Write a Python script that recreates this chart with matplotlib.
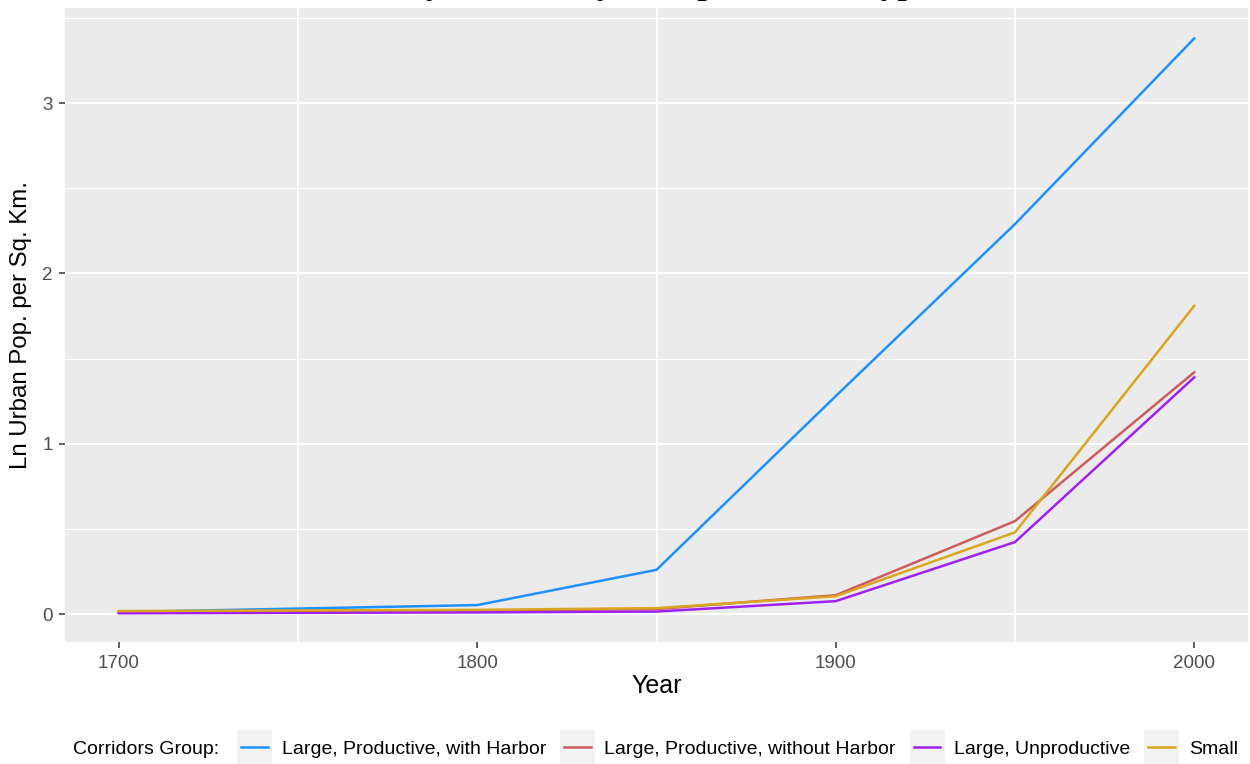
import matplotlib
matplotlib.use("Agg")
import matplotlib.pyplot as plt
from matplotlib.lines import Line2D
from matplotlib.patches import Rectangle
from matplotlib.legend_handler import HandlerBase

years = [1700, 1800, 1850, 1900, 1950, 2000]
series_names = ["Large, Productive, with Harbor", "Large, Productive, without Harbor",
                "Large, Unproductive", "Small"]
harbor = [0.012, 0.053, 0.26, 1.28, 2.29, 3.38]
no_harbor = [0.010, 0.020, 0.030, 0.111, 0.546, 1.42]
unproductive = [0.005, 0.010, 0.015, 0.076, 0.423, 1.39]
small = [0.018, 0.025, 0.035, 0.105, 0.48, 1.81]
colors = ["#1E90FF", "#CD5C5C", "#A020F0", "#DAA520"]
x_ticks = [1700, 1800, 1900, 2000]
y_ticks = [0, 1, 2, 3]

plt.rcParams['font.family'] = ['Liberation Sans', 'DejaVu Sans']

fig = plt.figure(figsize=(12.5, 7.64), dpi=100)
ax = fig.add_axes([65/1250, 1 - 642/764, (1248-65)/1250, (642-8)/764])
ax.set_facecolor("#EBEBEB")
for s in ax.spines.values():
    s.set_visible(False)

allvals = harbor + no_harbor + unproductive + small
lo, hi = min(allvals), max(allvals)
ax.set_ylim(lo - 0.05*(hi-lo), hi + 0.05*(hi-lo) + 0.01)
ax.set_xlim(1700 - 15, 2000 + 15)

# grid: horizontal major + minor, vertical minor only
for v in [0.5, 1.5, 2.5, 3.5]:
    ax.axhline(v, color="white", lw=0.8, zorder=0)
for v in y_ticks:
    ax.axhline(v, color="white", lw=1.5, zorder=0)
for v in [1750, 1850, 1950]:
    ax.axvline(v, color="white", lw=1.3, zorder=0)

data = [harbor, no_harbor, unproductive, small]
for name, vals, c in zip(series_names, data, colors):
    ax.plot(years, vals, color=c, lw=1.8, label=name, zorder=3)

ax.set_xticks(x_ticks)
ax.set_yticks(y_ticks)
ax.tick_params(axis="both", length=4, width=1.1, color="#333333",
               labelcolor="#4D4D4D", labelsize=13.5, pad=5)
ax.set_xlabel("Year", fontsize=18, color="black", labelpad=2)
ax.set_ylabel("Ln Urban Pop. per Sq. Km.", fontsize=17.3, color="black", labelpad=7)

# clipped title (mostly out of frame, only descenders visible)
fig.text(0.53, 1.0 + 6/764, "Urban Density Growth, by Group Corridor Type, 1700-2000",
         ha="center", va="baseline", fontsize=24, fontweight="bold",
         family="Liberation Serif")


class BoxLineHandler(HandlerBase):
    def create_artists(self, legend, orig_handle, xdescent, ydescent, width, height,
                       fontsize, trans):
        rect = Rectangle((-xdescent, -ydescent + height / 2 - width / 2), width, width,
                         facecolor="#F2F2F2", edgecolor="none", transform=trans)
        y = -ydescent + height / 2
        line = Line2D([-xdescent + width*0.12, -xdescent + width*0.88], [y, y],
                      color=orig_handle.get_color(), lw=1.8, transform=trans)
        return [rect, line]


handles = [Line2D([], [], color=c) for c in colors]
leg = fig.legend(handles, series_names, loc="center left",
                 bbox_to_anchor=(237/1250, 1 - 749/764), ncol=4, frameon=False,
                 fontsize=14, handlelength=1.8, handleheight=0.8, handletextpad=0.5,
                 columnspacing=0.7, borderpad=0, borderaxespad=0,
                 handler_map={Line2D: BoxLineHandler()})
fig.text(73/1250, 1 - 749/764, "Corridors Group:", ha="left", va="center", fontsize=14)

fig.savefig("out.png", dpi=100)
